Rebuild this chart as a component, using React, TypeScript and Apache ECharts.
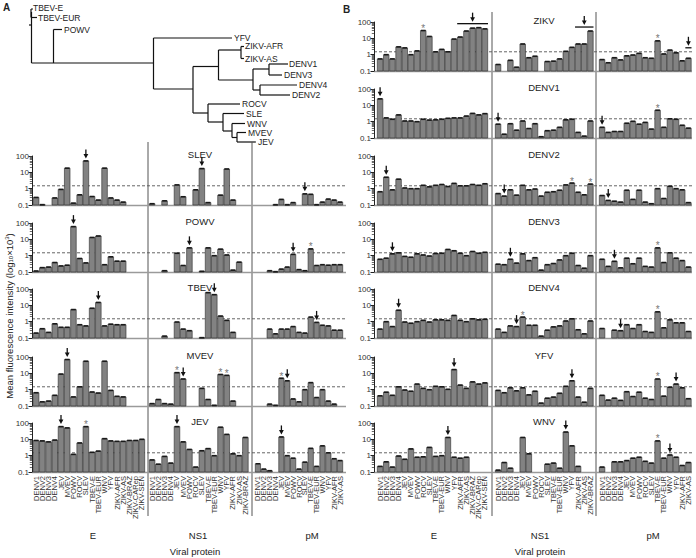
import React, { useEffect, useRef } from "react";
import * as echarts from "echarts";

const FONT = '"Liberation Sans", Arial, Helvetica, sans-serif';

const catE = ["DENV1","DENV2","DENV3","DENV4","JEV","MVEV","POWV","ROCV","SLEV","TBEV-E","TBEV-EUR","WNV","YFV","ZIKV-AFR","ZIKV-AS","ZIKV-BRAZ","ZIKV-CARep","ZIKV-SEN"];
const catNS1 = ["DENV1","DENV2","DENV3","DENV4","JEV","MVEV","POWV","ROCV","SLEV","TBEV-E","TBEV-EUR","WNV","YFV","ZIKV-AFR","ZIKV-AS","ZIKV-BRAZ"];
const catPM = ["DENV1","DENV2","DENV3","DENV4","JEV","MVEV","POWV","ROCV","SLEV","TBEV-E","TBEV-EUR","WNV","YFV","ZIKV-AFR","ZIKV-AS"];

const yTicks = [0.1, 1, 10, 100];
const cutoff = 1.5;

// Panel A
const slevE = [0.29,0.105,null,0.27,0.9,18,0.13,0.42,50,0.33,0.2,18,0.27,0.2,0.15,null,null,null];
const slevNS1 = [0.12,null,0.18,null,1.7,0.32,null,0.85,17,0.14,null,0.4,16,0.2,null,null];
const slevPM = [null,null,null,0.105,0.22,0.105,0.14,null,0.48,0.45,0.105,0.15,0.23,0.2,0.15];
const powvE = [0.115,0.185,0.2,0.38,0.235,0.26,60,0.67,0.36,13,16,0.28,0.85,0.46,0.46,null,null,null];
const powvNS1 = [null,null,0.12,null,1.4,0.25,3.0,null,0.11,3.0,1.0,2.5,1.1,0.13,0.4,null];
const powvPM = [null,null,0.12,0.105,0.15,0.2,1.2,0.14,0.12,2.6,0.25,0.28,0.26,0.28,0.28];
const tbevE = [0.2,0.37,0.22,0.74,0.45,0.45,5.5,0.65,0.55,6.6,15,0.55,0.7,0.65,0.65,null,null,null];
const tbevNS1 = [null,null,0.13,null,0.95,0.35,0.28,null,0.105,60,45,2.2,1.2,0.22,null,null];
const tbevPM = [null,null,0.35,0.18,0.35,0.35,0.5,0.22,0.2,1.9,0.9,0.6,0.55,0.3,0.3];
const mvevE = [0.65,0.18,0.2,0.45,9,70,0.36,1.5,55,0.72,0.62,55,0.9,0.39,0.36,null,null,null];
const mvevNS1 = [0.14,0.25,0.14,0.13,11,4.5,null,null,1.2,0.25,0.11,8.5,7.5,0.2,null,null];
const mvevPM = [null,null,0.13,0.11,5,3.5,0.27,0.18,1.0,2.7,0.33,1.0,0.2,0.13,null];
const jevE = [8.5,8,7,9,60,50,1.2,6,60,1.6,1.9,11,8,7.5,7.5,8.5,8.5,10];
const jevNS1 = [0.55,0.3,0.9,0.35,60,7,2.4,0.2,2.0,2.7,1.0,55,20,1.3,1.0,13];
const jevPM = [0.32,0.15,0.12,null,14,1.0,0.7,0.15,0.4,2.8,0.22,4,1.5,0.65,0.5];

// Panel B
const zikvE = [0.55,1.0,0.55,3.0,2.6,1.0,1.7,30,13,1.5,2.1,1.5,9,12,28,42,45,38];
const zikvNS1 = [0.25,null,0.45,0.17,4.5,0.65,0.8,null,0.38,0.4,0.55,1.6,2.8,4.5,4.5,28];
const zikvPM = [0.5,0.32,0.65,0.48,0.85,0.95,1.2,0.65,0.6,7,1.1,1.9,1.3,0.42,0.6];
const denv1E = [25,1.7,1.4,2.6,1.1,1.1,1.0,1.4,1.25,1.3,1.4,1.6,1.7,1.7,2.2,3.2,2.6,3.1];
const denv1NS1 = [0.7,0.17,0.75,0.3,1.1,0.38,0.75,0.12,0.28,0.3,0.45,1.3,1.4,0.22,0.13,1.1];
const denv1PM = [0.45,0.22,0.25,0.25,0.8,1.05,0.7,0.9,0.35,5,0.45,1.5,1.4,0.6,0.4];
const denv2E = [0.65,5,0.85,3.8,1.1,1.0,1.0,1.6,1.3,1.6,1.8,1.35,2.1,1.5,1.5,1.8,1.6,2.0];
const denv2NS1 = [0.5,0.35,0.85,0.4,1.6,0.85,0.95,0.35,0.6,0.65,0.8,1.7,2.2,0.6,0.42,1.9];
const denv2PM = [0.38,0.19,0.17,0.15,0.8,0.22,0.8,0.15,0.12,1.0,0.25,1.4,1.0,0.85,0.14];
const denv3E = [0.6,0.7,1.3,1.5,0.9,0.8,1.3,1.1,0.95,1.35,1.4,2.4,2.0,1.4,1.0,1.8,1.4,1.6];
const denv3NS1 = [0.3,0.28,0.6,0.35,1.3,0.5,0.75,0.13,0.28,0.33,0.55,1.0,1.4,0.25,0.17,1.0];
const denv3PM = [0.6,0.22,0.45,0.18,0.7,0.32,0.7,0.22,0.2,3,0.38,1.5,0.7,0.5,0.2];
const denv4E = [0.35,1.0,0.5,5,0.95,0.8,1.0,1.2,0.95,1.3,1.3,1.2,2.4,1.2,1.0,1.5,1.3,1.4];
const denv4NS1 = [0.35,0.22,0.55,0.5,1.9,0.6,0.6,0.13,0.3,0.48,0.55,1.1,1.5,0.32,0.18,1.1];
const denv4PM = [0.38,null,0.3,0.28,0.65,0.38,0.65,0.25,0.22,4,0.42,1.3,0.85,0.85,0.25];
const yfvE = [0.42,0.7,0.45,1.5,0.95,0.8,2.2,1.2,1.0,1.6,1.5,1.05,17,1.9,1.2,3.0,2.2,2.6];
const yfvNS1 = [0.9,0.65,1.3,0.85,1.3,0.48,0.8,0.15,0.3,0.35,0.6,1.6,3.5,0.35,0.17,1.2];
const yfvPM = [0.45,0.23,0.3,0.22,0.75,0.38,0.7,0.3,0.25,4.5,0.4,1.4,2.2,1.3,0.28];
const wnvE = [0.22,0.42,0.2,0.95,0.6,2.6,0.8,0.85,3.2,0.9,1.0,13,0.8,0.7,0.8,null,null,null];
const wnvNS1 = [0.13,0.38,0.17,null,13,1.3,null,null,0.3,0.35,0.17,28,4,0.22,null,null];
const wnvPM = [0.2,null,0.42,0.42,0.5,0.7,0.8,0.45,0.35,8,0.7,1.1,0.8,0.25,0.38];

type Vals = (number | null)[];
type Row = {
  name: string; panel: "A" | "B"; slot: number;
  e: Vals; ns1: Vals; pm: Vals;
  arrows: number[]; brackets: ([number, number] | null)[]; stars: number[][];
};

const rows: Row[] = [
  { name: "ZIKV", panel: "B", slot: 0, e: zikvE, ns1: zikvNS1, pm: zikvPM, arrows: [-1, -1, -1], brackets: [[13, 17], [13, 15], [14, 14]], stars: [[7], [], [9]] },
  { name: "DENV1", panel: "B", slot: 1, e: denv1E, ns1: denv1NS1, pm: denv1PM, arrows: [0, 0, 0], brackets: [null, null, null], stars: [[], [], [9]] },
  { name: "DENV2", panel: "B", slot: 2, e: denv2E, ns1: denv2NS1, pm: denv2PM, arrows: [1, 1, 1], brackets: [null, null, null], stars: [[], [12, 15], []] },
  { name: "DENV3", panel: "B", slot: 3, e: denv3E, ns1: denv3NS1, pm: denv3PM, arrows: [2, 2, 2], brackets: [null, null, null], stars: [[], [], [9]] },
  { name: "DENV4", panel: "B", slot: 4, e: denv4E, ns1: denv4NS1, pm: denv4PM, arrows: [3, 3, 3], brackets: [null, null, null], stars: [[], [4], [9]] },
  { name: "YFV", panel: "B", slot: 5, e: yfvE, ns1: yfvNS1, pm: yfvPM, arrows: [12, 12, 12], brackets: [null, null, null], stars: [[], [], [9]] },
  { name: "WNV", panel: "B", slot: 6, e: wnvE, ns1: wnvNS1, pm: wnvPM, arrows: [11, 11, 11], brackets: [null, null, null], stars: [[], [], [9]] },
  { name: "SLEV", panel: "A", slot: 2, e: slevE, ns1: slevNS1, pm: slevPM, arrows: [8, 8, 8], brackets: [null, null, null], stars: [[], [], []] },
  { name: "POWV", panel: "A", slot: 3, e: powvE, ns1: powvNS1, pm: powvPM, arrows: [6, 6, 6], brackets: [null, null, null], stars: [[], [], [9]] },
  { name: "TBEV", panel: "A", slot: 4, e: tbevE, ns1: tbevNS1, pm: tbevPM, arrows: [10, 10, 10], brackets: [null, null, null], stars: [[], [], []] },
  { name: "MVEV", panel: "A", slot: 5, e: mvevE, ns1: mvevNS1, pm: mvevPM, arrows: [5, 5, 5], brackets: [null, null, null], stars: [[], [4, 11, 12], [4]] },
  { name: "JEV", panel: "A", slot: 6, e: jevE, ns1: jevNS1, pm: jevPM, arrows: [4, 4, 4], brackets: [null, null, null], stars: [[8], [], []] },
];

const rowBottoms = [71, 138, 205, 272, 338, 406, 472];
const PLOT_H = 49;
const colsA: [number, number][] = [[33, 112], [149, 99.5], [255, 88]];
const colsB: [number, number][] = [[377, 111], [495, 98.5], [599, 92.5]];
const panelSpan = { A: [32, 346], B: [374, 692] };
const separators = { A: [148, 252], B: [492, 596] };
const colLabels = ["E", "NS1", "pM"];
const colLabelX = { A: [93, 198, 312], B: [434, 540, 653] };

// Tree (panel A) drawing segments [x1, y1, x2, y2]
const treeSegs: number[][] = [
  [29, 25, 31.5, 25], [31.5, 12, 31.5, 63], [31, 9, 31, 17.5], [31, 9, 33, 9], [31, 17.5, 37, 17.5],
  [31.5, 63, 153.5, 63], [53.5, 29.5, 53.5, 63], [53.5, 29.5, 62, 29.5],
  [153.5, 38, 153.5, 89], [153.5, 38, 232, 38], [153.5, 89, 193, 89],
  [193, 66.5, 193, 113], [193, 66.5, 218.5, 66.5], [218.5, 50, 218.5, 80],
  [218.5, 50, 241, 50], [241, 46.5, 241, 58.5], [241, 46.5, 244, 46.5], [241, 58.5, 244, 58.5],
  [218.5, 80, 253, 80], [253, 69, 253, 90], [253, 69, 269, 69], [269, 64, 269, 75],
  [269, 64, 288, 64], [269, 75, 282, 75], [253, 90, 260, 90], [260, 85, 260, 95],
  [260, 85, 297, 85], [260, 95, 290, 95],
  [193, 113, 208, 113], [208, 104, 208, 122], [208, 104, 240, 104], [208, 122, 223, 122],
  [223, 113.5, 223, 131], [223, 113.5, 244, 113.5], [223, 131, 232, 131], [232, 123.5, 232, 137.5],
  [232, 123.5, 245, 123.5], [232, 137.5, 237, 137.5], [237, 132.5, 237, 142], [237, 132.5, 246, 132.5], [237, 142, 256, 142],
];
const treeLabels: [string, number, number][] = [
  ["TBEV-E", 33, 8], ["TBEV-EUR", 38, 17.5], ["POWV", 64, 29.5], ["YFV", 234, 38],
  ["ZIKV-AFR", 245, 46], ["ZIKV-AS", 245, 58.5], ["DENV1", 289, 64], ["DENV3", 284, 75],
  ["DENV4", 299, 85], ["DENV2", 292, 95], ["ROCV", 242, 104], ["SLE", 246, 113.5],
  ["WNV", 247, 123.5], ["MVEV", 248, 132.5], ["JEV", 258, 142],
];

export default function App() {
  const ref = useRef<HTMLDivElement>(null);
  useEffect(() => {
    const el = ref.current!;
    const chart = echarts.init(el, null, { renderer: "svg" });
    const grids: any[] = [];
    const xAxes: any[] = [];
    const yAxes: any[] = [];
    const series: any[] = [];
    const meta: { g: number; row: Row; ci: number; vals: Vals; band: number }[] = [];
    rows.forEach((row) => {
      const cols = row.panel === "A" ? colsA : colsB;
      const bottom = rowBottoms[row.slot];
      const isBottom = row.slot === 6;
      [row.e, row.ns1, row.pm].forEach((vals, ci) => {
        const g = grids.length;
        const [left, width] = cols[ci];
        const cats = ci === 0 ? catE : ci === 1 ? catNS1 : catPM;
        grids.push({ left, top: bottom - PLOT_H, width, height: PLOT_H });
        xAxes.push({
          type: "category", gridIndex: g, data: cats,
          axisLine: { show: false }, axisTick: { show: false },
          axisLabel: isBottom
            ? { show: true, rotate: 90, interval: 0, fontSize: 7.5, margin: 4, color: "#333", fontFamily: FONT }
            : { show: false },
        });
        yAxes.push({
          type: "log", logBase: 10, min: yTicks[0], max: yTicks[yTicks.length - 1], gridIndex: g,
          show: ci === 0, offset: row.panel === "A" ? 1 : 3,
          axisLine: { show: true, lineStyle: { color: "#222", width: 1 } },
          axisTick: { show: true, length: 3.5, lineStyle: { color: "#222", width: 1 } },
          minorTick: { show: true, splitNumber: 9, length: 2.2, lineStyle: { color: "#444", width: 0.8 } },
          splitLine: { show: false },
          axisLabel: {
            fontSize: 8, margin: 3, color: "#333", fontFamily: FONT,
            formatter: (v: number) => (v < 0.5 ? "0.1" : String(Math.round(v))),
          },
        });
        const band = width / cats.length;
        const data = vals.map((v, i) => [i, v]).filter((d) => d[1] != null);
        series.push({
          type: "custom", xAxisIndex: g, yAxisIndex: g, data, encode: { x: 0, y: 1 },
          renderItem: (_p: any, api: any) => {
            const i = api.value(0);
            const v = api.value(1);
            const top = api.coord([i, v]);
            const base = api.coord([i, yTicks[0]]);
            const w = band * 0.9;
            return {
              type: "group",
              children: [
                { type: "rect", shape: { x: top[0] - w / 2, y: top[1], width: w, height: Math.max(0.6, base[1] - top[1]) },
                  style: { fill: "#828282", stroke: "#2a2a2a", lineWidth: 0.6 } },
                { type: "rect", shape: { x: top[0] - w * 0.42, y: top[1] - 0.8, width: w * 0.84, height: 1.6 },
                  style: { fill: "#1a1a1a" } },
              ],
            };
          },
        });
        meta.push({ g, row, ci, vals, band });
      });
    });
    chart.setOption({
      animation: false,
      textStyle: { fontFamily: FONT },
      grid: grids, xAxis: xAxes, yAxis: yAxes, series,
    });

    const gfx: any[] = [];
    const txt = (text: string, x: number, y: number, opt: any = {}) =>
      gfx.push({
        type: "text", x, y, silent: true,
        style: { text, fill: "#222", font: `${opt.weight || "normal"} ${opt.size || 9}px ${FONT}`, textAlign: opt.align || "left", textVerticalAlign: opt.valign || "middle" },
      });
    const arrow = (x: number, tipY: number) => {
      gfx.push({ type: "line", silent: true, shape: { x1: x, y1: tipY - 9, x2: x, y2: tipY - 3 }, style: { stroke: "#111", lineWidth: 1.3 } });
      gfx.push({ type: "polygon", silent: true, shape: { points: [[x - 2.4, tipY - 4.5], [x + 2.4, tipY - 4.5], [x, tipY]] }, style: { fill: "#111" } });
    };

    // tree
    treeSegs.forEach(([x1, y1, x2, y2]) =>
      gfx.push({ type: "line", silent: true, shape: { x1, y1, x2, y2 }, style: { stroke: "#111", lineWidth: 1.2 } })
    );
    treeLabels.forEach(([t, x, y]) => txt(t, x, y, { size: 8.5 }));
    txt("A", 3, 7, { size: 10, weight: "bold" });
    txt("B", 343, 9, { size: 10, weight: "bold" });

    // separators and column labels
    (["A", "B"] as const).forEach((p) => {
      const top = p === "A" ? 142 : 12;
      separators[p].forEach((x) =>
        gfx.push({ type: "line", silent: true, shape: { x1: x, y1: top, x2: x, y2: 516 }, style: { stroke: "#555", lineWidth: 1 } })
      );
      colLabels.forEach((t, i) => txt(t, colLabelX[p][i], 535, { size: 9.5, align: "center" }));
      txt("Viral protein", p === "A" ? 195 : 540, 551, { size: 9.5, align: "center" });
    });

    rows.forEach((row) => {
      const bottom = rowBottoms[row.slot];
      const [x0, x1] = panelSpan[row.panel];
      const g0 = meta.find((m) => m.row === row && m.ci === 0)!.g;
      const dashY = chart.convertToPixel({ gridIndex: g0 }, [0, cutoff])[1];
      gfx.push({ type: "line", silent: true, shape: { x1: x0, y1: dashY, x2: x1, y2: dashY }, style: { stroke: "#555", lineWidth: 0.9, lineDash: [3, 2] } });
      gfx.push({ type: "line", silent: true, shape: { x1: x0, y1: bottom + 0.5, x2: x1, y2: bottom + 0.5 }, style: { stroke: "#9a9a9a", lineWidth: 1.6 } });
      const sep = separators[row.panel];
      txt(row.name, (sep[0] + sep[1]) / 2, bottom - 51, { size: 9.5, align: "center" });
    });

    meta.forEach(({ g, row, ci, vals, band }) => {
      const topPx = (i: number) => chart.convertToPixel({ gridIndex: g }, [i, (vals[i] as number) || yTicks[0]]);
      const a = row.arrows[ci];
      if (a >= 0) {
        const [px, py] = topPx(a);
        arrow(px, py - 2.5);
      }
      const br = row.brackets[ci];
      if (br) {
        let minY = chart.convertToPixel({ gridIndex: g }, [0, cutoff])[1];
        for (let i = br[0]; i <= br[1]; i++) if (vals[i] != null) minY = Math.min(minY, topPx(i)[1]);
        const xa = topPx(br[0])[0] - band / 2;
        const xb = topPx(br[1])[0] + band / 2;
        const y = minY - 4;
        gfx.push({ type: "line", silent: true, shape: { x1: xa, y1: y, x2: xb, y2: y }, style: { stroke: "#111", lineWidth: 1.3 } });
        arrow((xa + xb) / 2, y - 2);
      }
      row.stars[ci].forEach((i) => {
        const [px, py] = topPx(i);
        gfx.push({ type: "text", silent: true, x: px, y: py + 3, style: { text: "*", fill: "#777", font: `10px ${FONT}`, textAlign: "center", textVerticalAlign: "bottom" } });
      });
    });

    // y-axis title
    gfx.push({
      type: "text", silent: true, x: 9, y: 316, rotation: Math.PI / 2,
      style: {
        text: "{n|Mean fluorescence intensity (log}{s|10}{n|×10}{p|3}{n|)}",
        textAlign: "center", textVerticalAlign: "middle",
        rich: {
          n: { fontSize: 9.5, fontFamily: FONT, fill: "#222" },
          s: { fontSize: 6, fontFamily: FONT, fill: "#222", verticalAlign: "bottom", padding: [4, 0, 0, 0] },
          p: { fontSize: 6, fontFamily: FONT, fill: "#222", verticalAlign: "top", padding: [0, 0, 4, 0] },
        },
      },
    });

    chart.setOption({ graphic: gfx });
    return () => chart.dispose();
  }, []);
  return <div ref={ref} style={{ position: "absolute", left: 0, top: 0, width: 696, height: 558, background: "#fff" }} />;
}
